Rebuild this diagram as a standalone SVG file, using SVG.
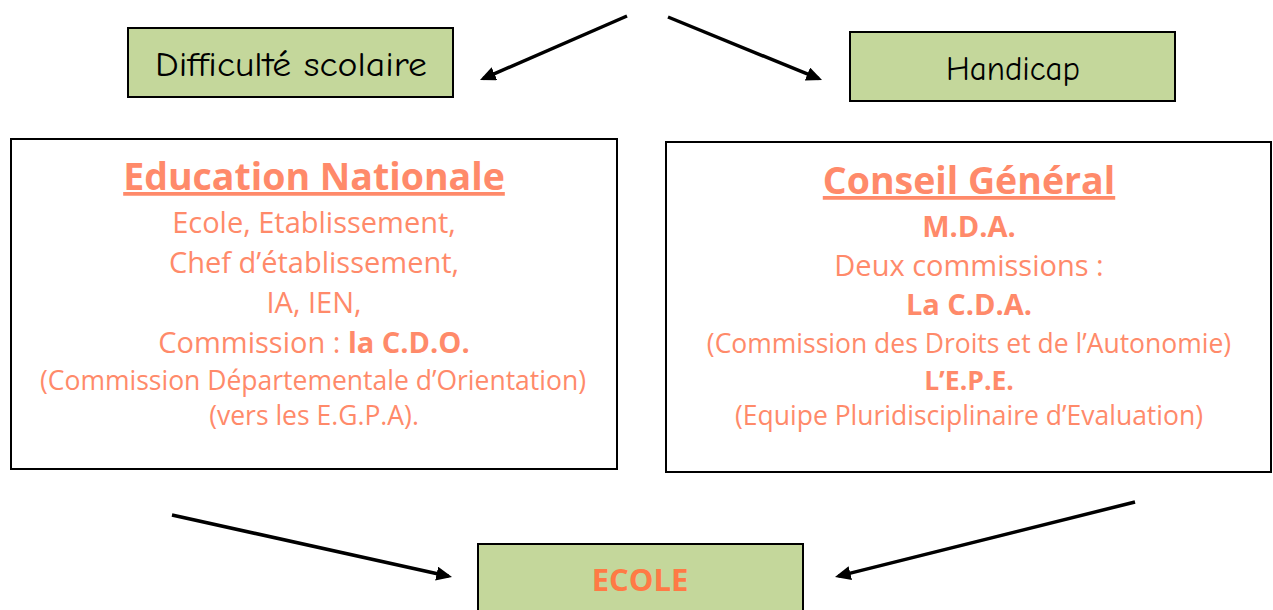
<svg xmlns="http://www.w3.org/2000/svg" width="1273" height="610" viewBox="0 0 1273 610">
<style>
.green{fill:#c4d79b;stroke:#000;stroke-width:2}
.white{fill:#fff;stroke:#000;stroke-width:2}
.cap{font-family:"Comic Neue","Open Sans","DejaVu Sans",sans-serif;font-size:35px;fill:#000;text-anchor:middle}
.t{font-family:"Open Sans","Noto Sans",sans-serif;fill:#ff8a6a;text-anchor:middle}
.h{font-size:37.5px;font-weight:bold;text-decoration:underline}
.n{font-size:29px}
.s{font-size:26.5px}
.b{font-weight:bold}
.arr{stroke:#000;stroke-width:3.5;fill:none;marker-end:url(#ah)}
</style>
<defs>
<marker id="ah" markerWidth="5" markerHeight="5" refX="3.5" refY="2" orient="auto" markerUnits="strokeWidth">
<path d="M0,0 L4.5,2 L0,4 Z" fill="#000"/>
</marker>
</defs>
<g id="connectors">
<line class="arr" x1="627" y1="16" x2="483.2" y2="78.6"/>
<line class="arr" x1="668" y1="17" x2="818.8" y2="78.7"/>
<line class="arr" x1="172" y1="515" x2="448.6" y2="576.2"/>
<line class="arr" x1="1135" y1="502" x2="838.4" y2="576.1"/>
</g>
<g id="difficulte">
<rect class="green" x="128" y="28" width="325" height="69"/>
<text class="cap" x="291" y="76" textLength="272" lengthAdjust="spacingAndGlyphs">Difficulté scolaire</text>
</g>
<g id="handicap">
<rect class="green" x="850" y="32" width="325" height="69"/>
<text class="cap" x="1013" y="80" textLength="134" lengthAdjust="spacingAndGlyphs">Handicap</text>
</g>
<g id="education">
<rect class="white" x="11" y="139" width="606" height="330"/>
<text class="t h" x="314" y="190">Education Nationale</text>
<text class="t n" x="314" y="233">Ecole, Etablissement,</text>
<text class="t n" x="314" y="273">Chef d’établissement,</text>
<text class="t n" x="314" y="313">IA, IEN,</text>
<text class="t n" x="314" y="353">Commission : <tspan class="b">la C.D.O.</tspan></text>
<text class="t s" x="313" y="390">(Commission Départementale d’Orientation)</text>
<text class="t s" x="314" y="425">(vers les E.G.P.A).</text>
</g>
<g id="conseil">
<rect class="white" x="666" y="142" width="605" height="330"/>
<text class="t h" x="969" y="194">Conseil Général</text>
<text class="t n b" x="969" y="237">M.D.A.</text>
<text class="t n" x="969" y="276">Deux commissions :</text>
<text class="t n b" x="969" y="315">La C.D.A.</text>
<text class="t s" x="969" y="353">(Commission des Droits et de l’Autonomie)</text>
<text class="t s b" x="969" y="390">L’E.P.E.</text>
<text class="t s" x="969" y="425">(Equipe Pluridisciplinaire d’Evaluation)</text>
</g>
<g id="ecole">
<rect class="green" x="478" y="544" width="325" height="80"/>
<text class="t b" x="640" y="591" font-size="31" style="fill:#ff7a45">ECOLE</text>
</g>
</svg>
